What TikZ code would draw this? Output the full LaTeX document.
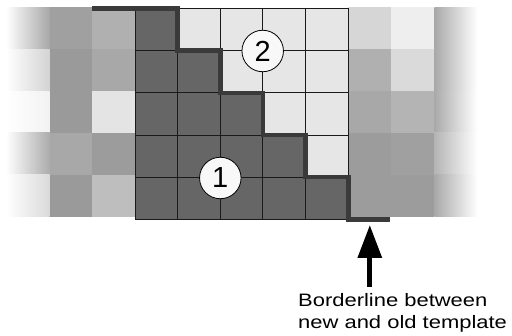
\documentclass[tikz,border=0pt]{standalone}
\usepackage{fontspec}
\setmainfont{Liberation Sans}
\newfontfamily\labfont[FakeStretch=1.22]{Liberation Sans}
\usetikzlibrary{arrows.meta}
\definecolor{darkcell}{HTML}{666666}
\definecolor{lightcell}{HTML}{E6E6E6}
\definecolor{borderline}{HTML}{3A3A3A}
\definecolor{gridline}{HTML}{1A1A1A}
\definecolor{circfill}{HTML}{F8F8F8}
\begin{document}
\begin{tikzpicture}[x=1pt,y=-1pt,
  gridcell/.style={draw=gridline, line width=1pt},
  border/.style={draw=borderline, line width=4.6pt, line cap=butt, line join=miter},
  marker/.style={circle, draw=black, fill=circfill, line width=0.8pt, minimum size=41.5pt, inner sep=0pt, font=\fontsize{29}{29}\selectfont},
  label/.style={anchor=base west, inner sep=0pt, font=\labfont\fontsize{18}{22}\selectfont},
  pointer/.style={line width=5pt, -{Triangle[length=33pt, width=23.4pt]}}]
\useasboundingbox (0,0) rectangle (512,336);
% outer (old template) cells, left side
\foreach \k/\j/\v in {
  1/0/0.627, 1/1/0.604, 1/2/0.604, 1/3/0.659, 1/4/0.604,
  2/0/0.690, 2/1/0.659, 2/2/0.894, 2/3/0.612, 2/4/0.745}{
  \definecolor{tmpc}{gray}{\v}
  \fill[tmpc] ({6+43*\k},{7.3+41.9*\j}) rectangle ++(43,41.9);
}
% faded left column
\foreach \j/\v in {0/0.659, 1/0.831, 2/0.949, 3/0.675, 4/0.855}{
  \definecolor{tmpc}{gray}{\v}
  \shade[left color=white, right color=tmpc] (6,{7.3+41.9*\j}) rectangle ++(43.5,41.9);
}
% outer cells, right side
\foreach \k/\j/\v in {
  0/0/0.839, 0/1/0.690, 0/2/0.659, 0/3/0.612, 0/4/0.612,
  1/0/0.933, 1/1/0.855, 1/2/0.706, 1/3/0.627, 1/4/0.612}{
  \definecolor{tmpc}{gray}{\v}
  \fill[tmpc] ({348.3+43*\k},{7.3+41.9*\j}) rectangle ++(43,41.9);
}
% faded right column
\foreach \j/\v in {0/0.659, 1/0.659, 2/0.667, 3/0.706, 4/0.659}{
  \definecolor{tmpc}{gray}{\v}
  \shade[left color=tmpc, right color=white] (434.3,{7.3+41.9*\j}) rectangle ++(43,41.9);
}
% grid: row j has j+1 dark cells
\foreach \j in {0,...,4}{
  \foreach \k in {0,...,4}{
    \pgfmathsetmacro{\isdark}{\k<=\j ? 1 : 0}
    \ifnum\isdark=1
      \filldraw[gridcell, fill=darkcell] ({135+42.66*\k},{8.6+42.15*\j}) rectangle ++(42.66,42.15);
    \else
      \filldraw[gridcell, fill=lightcell] ({135+42.66*\k},{8.6+42.15*\j}) rectangle ++(42.66,42.15);
    \fi
  }
}
% borderline between new and old template
\draw[border] (92,8.6) -- (177.66,8.6) -- (177.66,50.75) -- (220.32,50.75)
  -- (220.32,92.9) -- (262.98,92.9) -- (262.98,135.05) -- (305.64,135.05)
  -- (305.64,177.2) -- (348.3,177.2) -- (348.3,219.35) -- (390,219.35);
% markers
\node[marker] (m1) at (220.3,178) {1};
\node[marker] (m2) at (262.7,51) {2};
% arrow and label
\coordinate (atail) at (369.8,287);
\coordinate (ahead) at (369.8,225);
\draw[pointer] (atail) -- (ahead);
\node[label] (lab1) at (298,307) {Borderline between};
\node[label] (lab2) at (298,329) {new and old template};
\end{tikzpicture}
\end{document}
